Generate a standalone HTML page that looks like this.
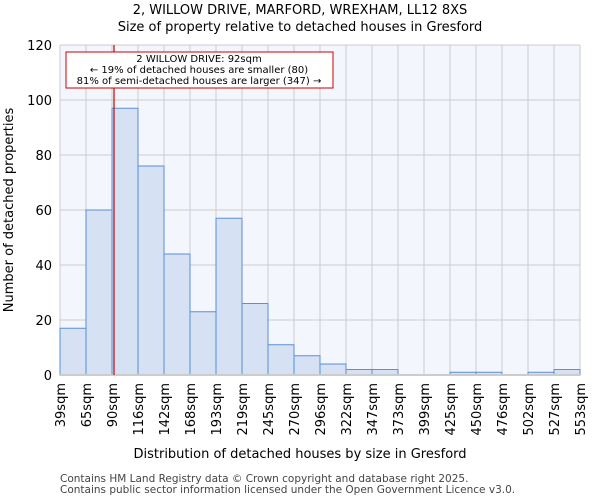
<!DOCTYPE html>
<html><head><meta charset="utf-8"><style>
body{margin:0;background:#fff;font-family:"DejaVu Sans","Liberation Sans",sans-serif;}
</style></head><body>
<svg width="600" height="500" xmlns="http://www.w3.org/2000/svg" font-family="DejaVu Sans, Liberation Sans, sans-serif">
<text x="300" y="14" text-anchor="middle" font-size="13">2, WILLOW DRIVE, MARFORD, WREXHAM, LL12 8XS</text>
<text x="300" y="31" text-anchor="middle" font-size="13">Size of property relative to detached houses in Gresford</text>
<rect x="60" y="45" width="520" height="330" fill="#f3f6fd"/>
<g id="grid"></g><g id="bars"></g><g id="axes"></g>
<line x1="114" x2="114" y1="45" y2="375" stroke="#cc0000" stroke-width="1.2"/>
<rect x="66" y="52" width="267" height="36" fill="#fff" stroke="#cc0000" stroke-width="1"/>
<text x="199" y="62" text-anchor="middle" font-size="10">2 WILLOW DRIVE: 92sqm</text>
<text x="199" y="73" text-anchor="middle" font-size="10">← 19% of detached houses are smaller (80)</text>
<text x="199" y="84" text-anchor="middle" font-size="10">81% of semi-detached houses are larger (347) →</text>
<text x="300" y="458" text-anchor="middle" font-size="13">Distribution of detached houses by size in Gresford</text>
<text transform="translate(13,210) rotate(-90)" text-anchor="middle" font-size="13">Number of detached properties</text>
<text x="60" y="482" font-size="10.5" fill="#444">Contains HM Land Registry data © Crown copyright and database right 2025.</text>
<text x="60" y="493" font-size="10.5" fill="#444">Contains public sector information licensed under the Open Government Licence v3.0.</text>
</svg>
<script>
const categories=["39sqm","65sqm","90sqm","116sqm","142sqm","168sqm","193sqm","219sqm","245sqm","270sqm","296sqm","322sqm","347sqm","373sqm","399sqm","425sqm","450sqm","476sqm","502sqm","527sqm","553sqm"];
const counts=[17,60,97,76,44,23,57,26,11,7,4,2,2,0,0,1,1,0,1,2];
const yTicks=[0,20,40,60,80,100,120];
const NS="http://www.w3.org/2000/svg";
const x0=60,x1=580,y0=375,y1=45,yMax=120;
const bw=(x1-x0)/counts.length;
const xs=i=>x0+i*bw;
const ys=v=>y0-(v/yMax)*(y0-y1);
function mk(p,t,a){const e=document.createElementNS(NS,t);for(const k in a)e.setAttribute(k,a[k]);p.appendChild(e);return e;}
const grid=document.getElementById('grid'),bars=document.getElementById('bars'),axes=document.getElementById('axes');
yTicks.forEach(v=>{
 const l=mk(grid,'line',{x1:x0,x2:x1,y1:ys(v),y2:ys(v),stroke:'#cccccc','stroke-width':1});
 
 
 const t=mk(axes,'text',{x:x0-8,y:ys(v)+5,'text-anchor':'end','font-size':13});
 t.textContent=v;
 
 
});
categories.forEach((c,i)=>{
 const x=xs(i);
 const l=mk(grid,'line',{x1:x,x2:x,y1:y1,y2:y0,stroke:'#cccccc','stroke-width':1});
 
 
 const t=mk(axes,'text',{transform:`translate(${x+5},${y0+8}) rotate(-90)`,'text-anchor':'end','font-size':13});
 t.textContent=c;
 
 
});
counts.forEach((v,i)=>{
 if(v<=0)return;
 const r=mk(bars,'rect',{x:xs(i),y:ys(v),width:bw,height:y0-ys(v),fill:'#d6e1f3',stroke:'#5b8fd6','stroke-width':1});
 
 
});
const ax=mk(axes,'line',{x1:x0,x2:x1,y1:y0,y2:y0,stroke:'#cccccc','stroke-width':2});


</script>
</body></html>
